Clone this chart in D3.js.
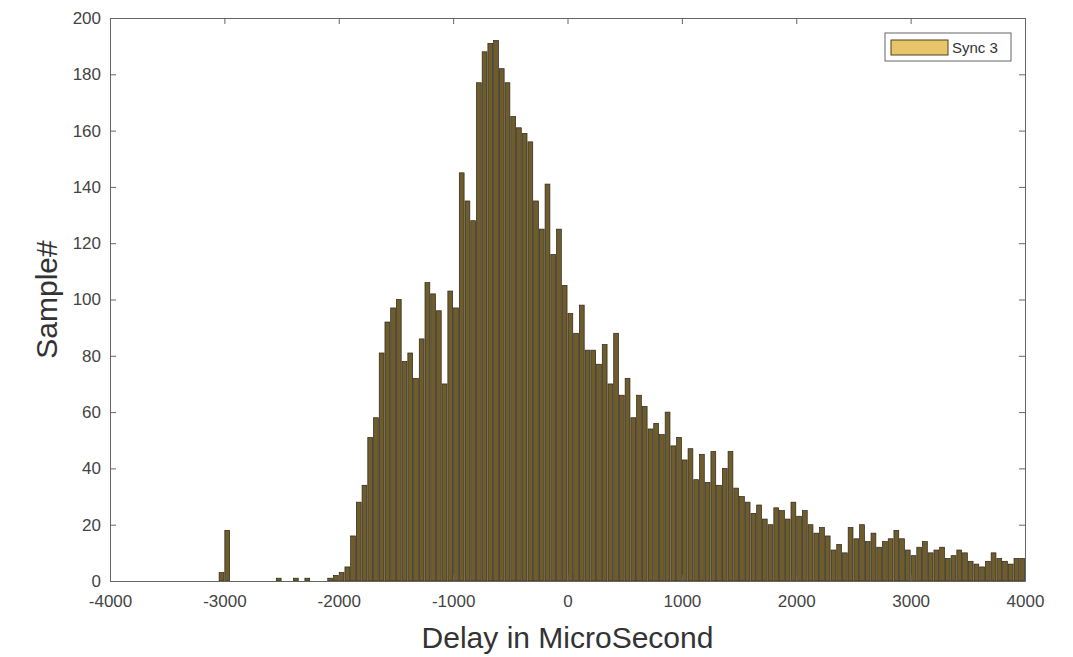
<!DOCTYPE html>
<head>
  <meta charset="utf-8">
  <script src="https://d3js.org/d3.v7.min.js"></script>
  <style>
    body { margin: 0; background: #fff; }
    .tick text { font-family: "Liberation Sans", Arial, sans-serif; font-size: 17px; fill: #444; }
    .axis-title { font-family: "Liberation Sans", Arial, sans-serif; font-size: 30px; fill: #333; }
    .bar { fill: #6e5c2c; stroke: #2b2618; stroke-width: 0.7px; }
  </style>
</head>

<body>
  <script>

    // histogram bin centres (microseconds) and counts
    var outlierDelays = [-3025, -2975, -2525, -2375, -2275, -2075, -2025, -1975, -1925];
    var outlierCounts = [3, 18, 1, 1, 1, 1, 2, 3, 5];

    var mainDelays = [
      -1875, -1825, -1775, -1725, -1675, -1625, -1575, -1525, -1475, -1425,
      -1375, -1325, -1275, -1225, -1175, -1125, -1075, -1025, -975, -925,
      -875, -825, -775, -725, -675, -625, -575, -525, -475, -425,
      -375, -325, -275, -225, -175, -125, -75, -25, 25, 75,
      125, 175, 225, 275, 325, 375, 425, 475, 525, 575,
      625, 675, 725, 775, 825, 875, 925, 975, 1025, 1075,
      1125, 1175, 1225, 1275, 1325, 1375, 1425, 1475, 1525, 1575,
      1625, 1675, 1725, 1775, 1825, 1875, 1925, 1975, 2025, 2075,
      2125, 2175, 2225, 2275, 2325, 2375, 2425, 2475, 2525, 2575,
      2625, 2675, 2725, 2775, 2825, 2875, 2925, 2975, 3025, 3075,
      3125, 3175, 3225, 3275, 3325, 3375, 3425, 3475, 3525, 3575,
      3625, 3675, 3725, 3775, 3825, 3875, 3925, 3975
    ];
    var mainCounts = [
      16, 28, 34, 51, 58, 81, 92, 97, 100, 78,
      81, 72, 86, 106, 102, 96, 70, 103, 97, 145,
      135, 128, 177, 188, 191, 192, 182, 177, 165, 161,
      159, 156, 135, 125, 141, 116, 125, 105, 95, 88,
      98, 82, 82, 77, 84, 70, 88, 66, 72, 58,
      66, 62, 54, 56, 52, 60, 48, 51, 43, 47,
      36, 45, 35, 46, 34, 40, 46, 33, 30, 28,
      24, 27, 22, 20, 26, 25, 22, 28, 23, 25,
      20, 17, 19, 16, 11, 13, 10, 19, 15, 20,
      14, 17, 12, 14, 15, 18, 15, 11, 9, 12,
      14, 10, 11, 12, 8, 9, 11, 10, 7, 6,
      5, 7, 10, 8, 7, 6, 8, 8
    ];

    var xTicks = [-4000, -3000, -2000, -1000, 0, 1000, 2000, 3000, 4000];
    var yTicks = [0, 20, 40, 60, 80, 100, 120, 140, 160, 180, 200];
    var binWidth = 50;
    var seriesName = "Sync 3";

    var data = outlierDelays.map(function(d, i) { return { delay: d, count: outlierCounts[i] }; })
      .concat(mainDelays.map(function(d, i) { return { delay: d, count: mainCounts[i] }; }));

    var svg = d3.select("body").append("svg")
      .attr("width", 1073)
      .attr("height", 657);

    var plotL = 110, plotR = 1025, plotT = 18, plotB = 581;

    var x = d3.scaleLinear().domain([-4000, 4000]).range([plotL, plotR]);
    var y = d3.scaleLinear().domain([0, 200]).range([plotB, plotT]);

    var bw = x(binWidth) - x(0);
    var fmt = function(d) { return String(d); };

    // bars
    svg.append("g").selectAll(".bar").data(data).enter()
      .append("rect")
        .attr("class", "bar")
        .attr("x", function(d) { return x(d.delay) - bw * 0.42; })
        .attr("width", bw * 0.84)
        .attr("y", function(d) { return y(d.count); })
        .attr("height", function(d) { return y(0) - y(d.count); });

    // box axes, MATLAB style (ticks pointing inward)
    var axisColor = "#666";
    function styleAxis(g) {
      g.select(".domain").attr("stroke", axisColor);
      g.selectAll("line").attr("stroke", axisColor);
    }

    svg.append("g")
      .attr("transform", "translate(0," + plotB + ")")
      .call(d3.axisBottom(x).tickValues(xTicks).tickSizeInner(-6).tickSizeOuter(0).tickPadding(14).tickFormat(fmt))
      .call(styleAxis);

    svg.append("g")
      .attr("transform", "translate(0," + plotT + ")")
      .call(d3.axisTop(x).tickValues(xTicks).tickSizeInner(-6).tickSizeOuter(0).tickFormat(""))
      .call(styleAxis);

    svg.append("g")
      .attr("transform", "translate(" + plotL + ",0)")
      .call(d3.axisLeft(y).tickValues(yTicks).tickSizeInner(-6).tickSizeOuter(0).tickPadding(9).tickFormat(fmt))
      .call(styleAxis);

    svg.append("g")
      .attr("transform", "translate(" + plotR + ",0)")
      .call(d3.axisRight(y).tickValues(yTicks).tickSizeInner(-6).tickSizeOuter(0).tickFormat(""))
      .call(styleAxis);

    // axis titles
    svg.append("text")
      .attr("class", "axis-title")
      .attr("x", (plotL + plotR) / 2)
      .attr("y", 648)
      .attr("text-anchor", "middle")
      .text("Delay in MicroSecond");

    svg.append("text")
      .attr("class", "axis-title")
      .attr("transform", "translate(57," + (plotT + plotB) / 2 + ") rotate(-90)")
      .attr("text-anchor", "middle")
      .text("Sample#");

    // legend
    var lg = svg.append("g").attr("transform", "translate(885,33)");
    lg.append("rect")
      .attr("width", 126).attr("height", 28)
      .attr("fill", "#fff").attr("stroke", "#666").attr("stroke-width", 1);
    lg.append("rect")
      .attr("x", 6).attr("y", 7).attr("width", 57).attr("height", 15)
      .attr("fill", "#e8c56b").attr("stroke", "#4a4020").attr("stroke-width", 1);
    lg.append("text")
      .attr("x", 67).attr("y", 20)
      .style("font-family", "Liberation Sans, Arial, sans-serif")
      .style("font-size", "15px")
      .attr("fill", "#333")
      .text(seriesName);

  </script>
</body>
